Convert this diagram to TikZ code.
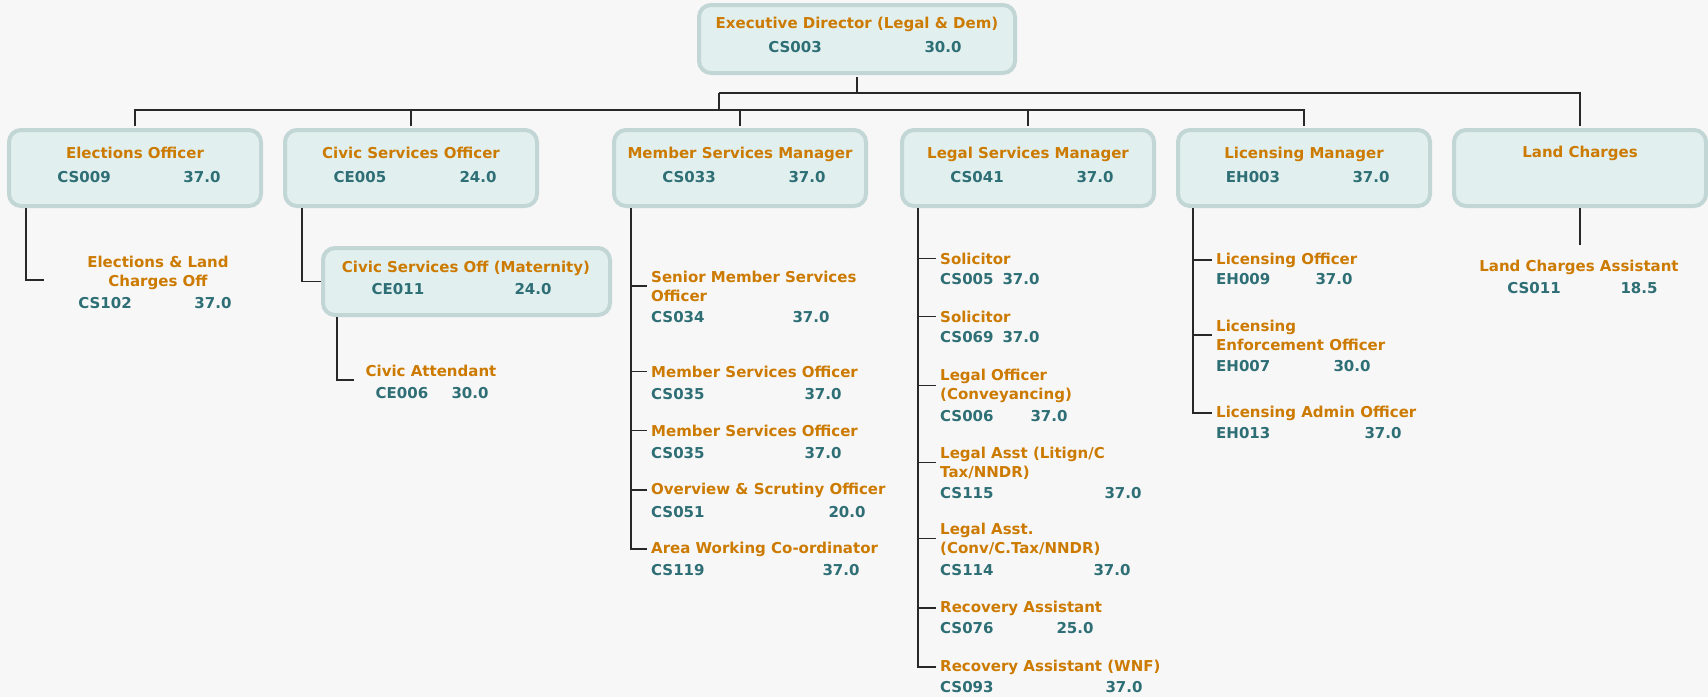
\documentclass[tikz,border=0pt]{standalone}
\usepackage{fontspec}
\setmainfont{DejaVu Sans}
\definecolor{jobcol}{RGB}{204,122,0}
\definecolor{codecol}{RGB}{46,110,117}
\definecolor{boxfill}{RGB}{225,240,239}
\definecolor{boxline}{RGB}{193,214,213}
\definecolor{pagecol}{RGB}{247,247,247}
\definecolor{wirecol}{RGB}{40,40,40}
\tikzset{
  post/.style={draw=boxline, line width=4pt, fill=boxfill, rounded corners=12pt,
    minimum width=252pt, minimum height=76pt, inner sep=0pt},
  jobtitle/.style={text=jobcol, font=\fontsize{15}{19}\selectfont\bfseries, inner sep=0pt},
  postcode/.style={text=codecol, font=\fontsize{15}{19}\selectfont\bfseries, inner sep=0pt},
  wire/.style={draw=wirecol, line width=1.3pt}
}
\begin{document}
\begin{tikzpicture}[x=1pt,y=-1pt]
\useasboundingbox (0,0) rectangle (1708,697);
\fill[pagecol] (0,0) rectangle (1708,697);

% director
\node[post, minimum width=316pt, minimum height=68pt] (exec) at (857,39) {};
\node[jobtitle, anchor=base] (exec-t) at (857,28) {Executive Director (Legal \& Dem)};
\node[postcode, anchor=base] (exec-c) at (795,52) {CS003};
\node[postcode, anchor=base] (exec-h) at (943,52) {30.0};

% managers
\foreach \n/\x/\t/\c/\h in {elect/135/Elections Officer/CS009/37.0,
  civic/411/Civic Services Officer/CE005/24.0,
  member/740/Member Services Manager/CS033/37.0,
  legal/1028/Legal Services Manager/CS041/37.0,
  licen/1304/Licensing Manager/EH003/37.0}
{
  \node[post] (\n) at (\x,168) {};
  \node[jobtitle, anchor=base] (\n-t) at (\x,158) {\t};
  \node[postcode, anchor=base] (\n-c) at (\x-51,182) {\c};
  \node[postcode, anchor=base] (\n-h) at (\x+67,182) {\h};
}
\node[post] (land) at (1580,168) {};
\node[jobtitle, anchor=base] (land-t) at (1580,157) {Land Charges};

\coordinate (bus1) at (719,93);
\coordinate (bus2) at (719,110);
\draw[wire, shorten <=2pt, shorten >=2pt] (exec.south) |- (bus1) -| (land.north);
\draw[wire] (bus1) -- (bus2);
\foreach \n in {elect,civic,member,legal,licen}
  \draw[wire, shorten >=2pt] (bus2) -| (\n.north);

% elections
\node[jobtitle, anchor=base, align=center] (e1) at (158,286) {Elections \& Land\\Charges Off};
\node[postcode, anchor=base] (e1c) at (105,308) {CS102};
\node[postcode, anchor=base] (e1h) at (213,308) {37.0};
\coordinate (eltop) at (26,208);
\coordinate (eltick) at (44,280);
\draw[wire] (eltop) |- (eltick);

% civic
\node[post, minimum width=287pt, minimum height=67pt] (matern) at (466.5,281.5) {};
\node[jobtitle, anchor=base] (matern-t) at (466,272) {Civic Services Off (Maternity)};
\node[postcode, anchor=base] (matern-c) at (398,294) {CE011};
\node[postcode, anchor=base] (matern-h) at (533,294) {24.0};
\coordinate (cvtop) at (302,208);
\draw[wire] (cvtop) |- (matern.west);
\node[jobtitle, anchor=base] (c1) at (431,376) {Civic Attendant};
\node[postcode, anchor=base] (c1c) at (402,398) {CE006};
\node[postcode, anchor=base] (c1h) at (470,398) {30.0};
\coordinate (mttop) at (337,317);
\coordinate (mttick) at (354,380);
\draw[wire] (mttop) |- (mttick);

% member services
\node[jobtitle, anchor=base west, align=left] (m1) at (651,301) {Senior Member Services\\Officer};
\node[postcode, anchor=base west] (m1c) at (651,322) {CS034};
\node[postcode, anchor=base] (m1h) at (811,322) {37.0};
\node[jobtitle, anchor=base west] (m2) at (651,377) {Member Services Officer};
\node[postcode, anchor=base west] (m2c) at (651,399) {CS035};
\node[postcode, anchor=base] (m2h) at (823,399) {37.0};
\node[jobtitle, anchor=base west] (m3) at (651,436) {Member Services Officer};
\node[postcode, anchor=base west] (m3c) at (651,458) {CS035};
\node[postcode, anchor=base] (m3h) at (823,458) {37.0};
\node[jobtitle, anchor=base west] (m4) at (651,494) {Overview \& Scrutiny Officer};
\node[postcode, anchor=base west] (m4c) at (651,517) {CS051};
\node[postcode, anchor=base] (m4h) at (847,517) {20.0};
\node[jobtitle, anchor=base west] (m5) at (651,553) {Area Working Co-ordinator};
\node[postcode, anchor=base west] (m5c) at (651,575) {CS119};
\node[postcode, anchor=base] (m5h) at (841,575) {37.0};
\coordinate (memtop) at (631,208);
\draw[wire] (memtop) |- ([xshift=-4pt]m5.west);
\foreach \n in {m1,m2,m3,m4}
  \draw[wire] (\n.west -| memtop) -- ([xshift=-4pt]\n.west);

% legal services
\node[jobtitle, anchor=base west] (l1) at (940,264) {Solicitor};
\node[postcode, anchor=base west] (l1c) at (940,284) {CS005};
\node[postcode, anchor=base] (l1h) at (1021,284) {37.0};
\node[jobtitle, anchor=base west] (l2) at (940,322) {Solicitor};
\node[postcode, anchor=base west] (l2c) at (940,342) {CS069};
\node[postcode, anchor=base] (l2h) at (1021,342) {37.0};
\node[jobtitle, anchor=base west, align=left] (l3) at (940,399) {Legal Officer\\(Conveyancing)};
\node[postcode, anchor=base west] (l3c) at (940,421) {CS006};
\node[postcode, anchor=base] (l3h) at (1049,421) {37.0};
\node[jobtitle, anchor=base west, align=left] (l4) at (940,477) {Legal Asst (Litign/C\\Tax/NNDR)};
\node[postcode, anchor=base west] (l4c) at (940,498) {CS115};
\node[postcode, anchor=base] (l4h) at (1123,498) {37.0};
\node[jobtitle, anchor=base west, align=left] (l5) at (940,553) {Legal Asst.\\(Conv/C.Tax/NNDR)};
\node[postcode, anchor=base west] (l5c) at (940,575) {CS114};
\node[postcode, anchor=base] (l5h) at (1112,575) {37.0};
\node[jobtitle, anchor=base west] (l6) at (940,612) {Recovery Assistant};
\node[postcode, anchor=base west] (l6c) at (940,633) {CS076};
\node[postcode, anchor=base] (l6h) at (1075,633) {25.0};
\node[jobtitle, anchor=base west] (l7) at (940,671) {Recovery Assistant (WNF)};
\node[postcode, anchor=base west] (l7c) at (940,692) {CS093};
\node[postcode, anchor=base] (l7h) at (1124,692) {37.0};
\coordinate (legtop) at (918,208);
\draw[wire] (legtop) |- ([xshift=-4pt]l7.west);
\foreach \n in {l1,l2,l3,l4,l5,l6}
  \draw[wire] (\n.west -| legtop) -- ([xshift=-4pt]\n.west);

% licensing
\node[jobtitle, anchor=base west] (k1) at (1216,264) {Licensing Officer};
\node[postcode, anchor=base west] (k1c) at (1216,284) {EH009};
\node[postcode, anchor=base] (k1h) at (1334,284) {37.0};
\node[jobtitle, anchor=base west, align=left] (k2) at (1216,350) {Licensing\\Enforcement Officer};
\node[postcode, anchor=base west] (k2c) at (1216,371) {EH007};
\node[postcode, anchor=base] (k2h) at (1352,371) {30.0};
\node[jobtitle, anchor=base west] (k3) at (1216,417) {Licensing Admin Officer};
\node[postcode, anchor=base west] (k3c) at (1216,438) {EH013};
\node[postcode, anchor=base] (k3h) at (1383,438) {37.0};
\coordinate (lictop) at (1193,208);
\draw[wire] (lictop) |- ([xshift=-4pt]k3.west);
\foreach \n in {k1,k2}
  \draw[wire] (\n.west -| lictop) -- ([xshift=-4pt]\n.west);

% land charges
\node[jobtitle, anchor=base] (a1) at (1579,271) {Land Charges Assistant};
\node[postcode, anchor=base] (a1c) at (1534,293) {CS011};
\node[postcode, anchor=base] (a1h) at (1639,293) {18.5};
\coordinate (lctick) at (1580,245);
\draw[wire] (land.south) -- (lctick);
\end{tikzpicture}
\end{document}
